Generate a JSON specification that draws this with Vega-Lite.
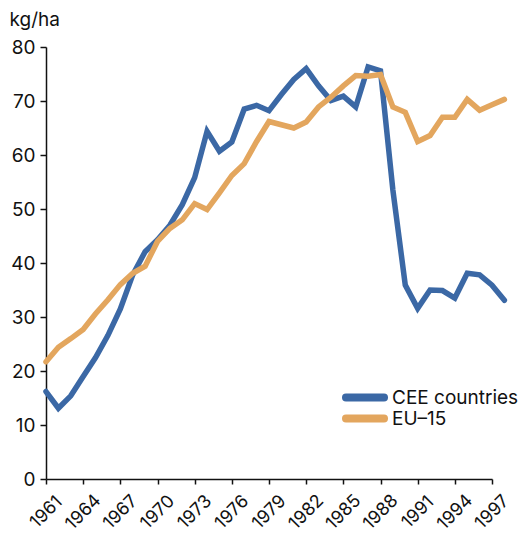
{
  "$schema": "https://vega.github.io/schema/vega-lite/v6.json",
  "autosize": {"type": "none"},
  "padding": {"left": 46, "top": 47, "right": 32, "bottom": 54},
  "width": 446,
  "height": 432,
  "background": "white",
  "config": {
    "view": {"stroke": null},
    "font": "Inter",
    "axis": {"labelFont": "Inter", "titleFont": "Inter", "labelColor": "#111", "titleColor": "#111", "domainColor": "#111", "tickColor": "#111", "grid": false},
    "legend": {"labelFont": "Inter"}
  },
  "data": {
    "values": [
      {"year": 1961, "series": "CEE countries", "value": 16.2},
      {"year": 1962, "series": "CEE countries", "value": 13.1},
      {"year": 1963, "series": "CEE countries", "value": 15.4},
      {"year": 1964, "series": "CEE countries", "value": 19.0},
      {"year": 1965, "series": "CEE countries", "value": 22.5},
      {"year": 1966, "series": "CEE countries", "value": 26.6},
      {"year": 1967, "series": "CEE countries", "value": 31.5},
      {"year": 1968, "series": "CEE countries", "value": 37.8},
      {"year": 1969, "series": "CEE countries", "value": 42.1},
      {"year": 1970, "series": "CEE countries", "value": 44.3},
      {"year": 1971, "series": "CEE countries", "value": 47.0},
      {"year": 1972, "series": "CEE countries", "value": 50.8},
      {"year": 1973, "series": "CEE countries", "value": 55.8},
      {"year": 1974, "series": "CEE countries", "value": 64.4},
      {"year": 1975, "series": "CEE countries", "value": 60.7},
      {"year": 1976, "series": "CEE countries", "value": 62.4},
      {"year": 1977, "series": "CEE countries", "value": 68.5},
      {"year": 1978, "series": "CEE countries", "value": 69.2},
      {"year": 1979, "series": "CEE countries", "value": 68.2},
      {"year": 1980, "series": "CEE countries", "value": 71.2},
      {"year": 1981, "series": "CEE countries", "value": 74.0},
      {"year": 1982, "series": "CEE countries", "value": 76.0},
      {"year": 1983, "series": "CEE countries", "value": 72.8},
      {"year": 1984, "series": "CEE countries", "value": 70.1},
      {"year": 1985, "series": "CEE countries", "value": 70.9},
      {"year": 1986, "series": "CEE countries", "value": 68.9},
      {"year": 1987, "series": "CEE countries", "value": 76.3},
      {"year": 1988, "series": "CEE countries", "value": 75.6},
      {"year": 1989, "series": "CEE countries", "value": 53.5},
      {"year": 1990, "series": "CEE countries", "value": 35.9},
      {"year": 1991, "series": "CEE countries", "value": 31.6},
      {"year": 1992, "series": "CEE countries", "value": 35.0},
      {"year": 1993, "series": "CEE countries", "value": 34.9},
      {"year": 1994, "series": "CEE countries", "value": 33.5},
      {"year": 1995, "series": "CEE countries", "value": 38.1},
      {"year": 1996, "series": "CEE countries", "value": 37.8},
      {"year": 1997, "series": "CEE countries", "value": 35.9},
      {"year": 1998, "series": "CEE countries", "value": 33.1},
      {"year": 1961, "series": "EU–15", "value": 21.7},
      {"year": 1962, "series": "EU–15", "value": 24.4},
      {"year": 1963, "series": "EU–15", "value": 26.0},
      {"year": 1964, "series": "EU–15", "value": 27.7},
      {"year": 1965, "series": "EU–15", "value": 30.6},
      {"year": 1966, "series": "EU–15", "value": 33.2},
      {"year": 1967, "series": "EU–15", "value": 36.0},
      {"year": 1968, "series": "EU–15", "value": 38.1},
      {"year": 1969, "series": "EU–15", "value": 39.4},
      {"year": 1970, "series": "EU–15", "value": 44.0},
      {"year": 1971, "series": "EU–15", "value": 46.4},
      {"year": 1972, "series": "EU–15", "value": 48.0},
      {"year": 1973, "series": "EU–15", "value": 51.0},
      {"year": 1974, "series": "EU–15", "value": 49.9},
      {"year": 1975, "series": "EU–15", "value": 53.0},
      {"year": 1976, "series": "EU–15", "value": 56.2},
      {"year": 1977, "series": "EU–15", "value": 58.4},
      {"year": 1978, "series": "EU–15", "value": 62.5},
      {"year": 1979, "series": "EU–15", "value": 66.2},
      {"year": 1980, "series": "EU–15", "value": 65.6},
      {"year": 1981, "series": "EU–15", "value": 65.0},
      {"year": 1982, "series": "EU–15", "value": 66.1},
      {"year": 1983, "series": "EU–15", "value": 68.9},
      {"year": 1984, "series": "EU–15", "value": 70.7},
      {"year": 1985, "series": "EU–15", "value": 72.8},
      {"year": 1986, "series": "EU–15", "value": 74.7},
      {"year": 1987, "series": "EU–15", "value": 74.6},
      {"year": 1988, "series": "EU–15", "value": 74.9},
      {"year": 1989, "series": "EU–15", "value": 68.9},
      {"year": 1990, "series": "EU–15", "value": 67.9},
      {"year": 1991, "series": "EU–15", "value": 62.5},
      {"year": 1992, "series": "EU–15", "value": 63.6},
      {"year": 1993, "series": "EU–15", "value": 67.0},
      {"year": 1994, "series": "EU–15", "value": 67.0},
      {"year": 1995, "series": "EU–15", "value": 70.3},
      {"year": 1996, "series": "EU–15", "value": 68.3},
      {"year": 1997, "series": "EU–15", "value": 69.3},
      {"year": 1998, "series": "EU–15", "value": 70.3}
    ]
  },
  "mark": {"type": "line", "strokeWidth": 5.5, "strokeCap": "round", "strokeJoin": "miter", "clip": false},
  "encoding": {
    "x": {
      "field": "year", "type": "quantitative",
      "scale": {"domain": [1961, 1997], "zero": false, "nice": false},
      "axis": {
        "title": null,
        "values": [1961, 1964, 1967, 1970, 1973, 1976, 1979, 1982, 1985, 1988, 1991, 1994, 1997],
        "format": "d",
        "labelAngle": -45,
        "labelAlign": "center",
        "labelBaseline": "middle",
        "labelFontSize": 18,
        "labelPadding": 28,
        "labelDx": -5,
        "tickSize": 5,
        "tickWidth": 1.5,
        "domainWidth": 1.5,
        "labelFlush": false,
        "labelOverlap": false
      }
    },
    "y": {
      "field": "value", "type": "quantitative",
      "scale": {"domain": [0, 80], "nice": false},
      "axis": {
        "title": "kg/ha",
        "titleAngle": 0,
        "titleAlign": "left",
        "titleBaseline": "alphabetic",
        "titleX": -37,
        "titleY": -22,
        "titleFontSize": 19,
        "titleFontWeight": "normal",
        "values": [0, 10, 20, 30, 40, 50, 60, 70, 80],
        "labelFontSize": 19,
        "labelPadding": 5,
        "tickSize": 6,
        "tickWidth": 1.5,
        "domainWidth": 1.5
      }
    },
    "color": {
      "field": "series", "type": "nominal",
      "scale": {"domain": ["CEE countries", "EU–15"], "range": ["#3b68a5", "#e3a65e"]},
      "legend": {
        "title": null,
        "orient": "none",
        "legendX": 296,
        "legendY": 340,
        "symbolType": "stroke",
        "symbolSize": 1444,
        "symbolStrokeWidth": 8,
        "clipHeight": 21,
        "labelFontSize": 19,
        "labelColor": "#111",
        "labelOffset": 4,
        "rowPadding": 0,
        "encode": {"symbols": {"update": {"strokeCap": {"value": "round"}}}}
      }
    }
  }
}
